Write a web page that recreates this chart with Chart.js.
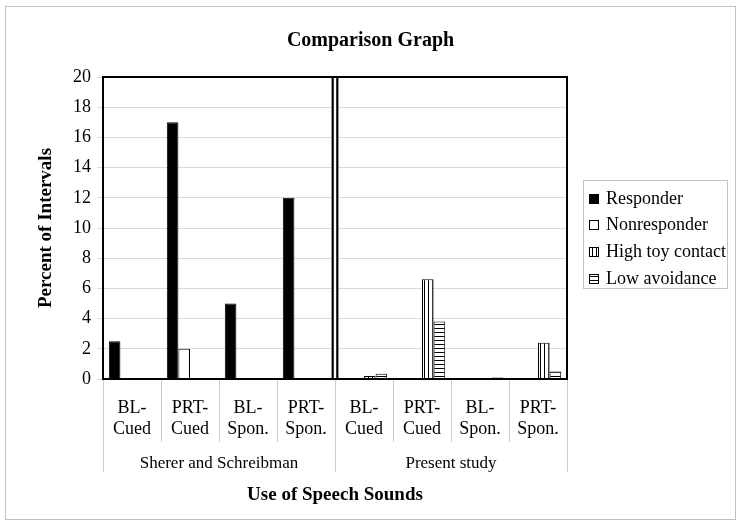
<!DOCTYPE html>
<html>
<head>
<meta charset="utf-8">
<title>Comparison Graph</title>
<script src="https://cdn.jsdelivr.net/npm/chart.js@4.4.1/dist/chart.umd.min.js"></script>
<style>
  html, body { margin: 0; padding: 0; background: #fff; }
  #chart { display: block; }
</style>
</head>
<body>
<canvas id="chart" width="741" height="526"></canvas>
<script>
// data
const categories = [
  ['BL-', 'Cued'], ['PRT-', 'Cued'], ['BL-', 'Spon.'], ['PRT-', 'Spon.'],
  ['BL-', 'Cued'], ['PRT-', 'Cued'], ['BL-', 'Spon.'], ['PRT-', 'Spon.']
];
const groupLabels = ['Sherer and Schreibman', 'Present study'];
const seriesNames = ['Responder', 'Nonresponder', 'High toy contact', 'Low avoidance'];
const responder = [2.5, 17, 5, 12, null, null, null, null];
const nonresponder = [null, 2, null, null, null, null, null, null];
const highToyContact = [null, null, null, null, 0.2, 6.6, null, 2.4];
const lowAvoidance = [null, null, null, null, 0.35, 3.8, 0.1, 0.5];

const SERIF = '"Liberation Serif", "Times New Roman", serif';

function makePattern(kind) {
    const c = document.createElement('canvas');
    c.width = 4;
    c.height = 4;
    const g = c.getContext('2d');
    g.fillStyle = '#fff';
    g.fillRect(0, 0, 4, 4);
    g.fillStyle = '#000';
    if (kind === 'v') g.fillRect(0, 0, 1, 4);
    else g.fillRect(0, 0, 4, 1);
    return g.createPattern(c, 'repeat');
}

const fills = ['#000000', '#ffffff', makePattern('v'), makePattern('h')];
const seriesData = [responder, nonresponder, highToyContact, lowAvoidance];

// frame, double divider, category separators, group labels, legend, outer border
const decorations = {
    id: 'decorations',
    afterDraw(chart) {
        const ctx = chart.ctx;
        const area = chart.chartArea;
        const x = chart.scales.x;
        const n = categories.length;
        const w = (x.right - x.left) / n;
        ctx.save();

        // separators below the axis
        ctx.strokeStyle = '#cccccc';
        ctx.lineWidth = 1;
        for (let i = 0; i <= n; i++) {
            const px = Math.round(x.left + i * w) + 0.5;
            const isGroupEdge = i === 0 || i === n || i === n / 2;
            ctx.beginPath();
            ctx.moveTo(px, area.bottom);
            ctx.lineTo(px, isGroupEdge ? 472 : 442);
            ctx.stroke();
        }

        // group labels
        ctx.fillStyle = '#000';
        ctx.font = '17px ' + SERIF;
        ctx.textAlign = 'center';
        ctx.textBaseline = 'middle';
        groupLabels.forEach((lab, gi) => {
            const cx = x.left + (gi * 4 + 2) * w;
            ctx.fillText(lab, cx, 464);
        });

        // plot frame
        ctx.strokeStyle = '#000';
        ctx.lineWidth = 2;
        ctx.strokeRect(area.left, area.top, area.right - area.left, area.bottom - area.top);

        // double line between the two studies
        const mid = x.left + (n / 2) * w;
        ctx.fillStyle = '#fff';
        ctx.fillRect(mid - 2, area.top + 1, 4, area.bottom - area.top - 2);
        ctx.lineWidth = 2.2;
        [mid - 2.3, mid + 2.3].forEach(px => {
            ctx.beginPath();
            ctx.moveTo(px, area.top);
            ctx.lineTo(px, area.bottom);
            ctx.stroke();
        });

        // legend
        ctx.strokeStyle = '#c4c4c4';
        ctx.lineWidth = 1;
        ctx.strokeRect(583.5, 180.5, 144, 108);
        ctx.font = '18px ' + SERIF;
        ctx.textAlign = 'left';
        ctx.textBaseline = 'middle';
        seriesNames.forEach((name, i) => {
            const cy = 198 + i * 26.7;
            const top = Math.round(cy - 4.5);
            ctx.fillStyle = fills[i];
            ctx.fillRect(589, top, 9, 9);
            ctx.strokeStyle = '#000';
            ctx.strokeRect(589.5, top + 0.5, 9, 9);
            ctx.fillStyle = '#000';
            ctx.fillText(name, 606, cy + 1);
        });

        // outer border
        ctx.strokeStyle = '#c0c0c0';
        ctx.lineWidth = 1;
        ctx.strokeRect(5.5, 6.5, 730, 513);
        ctx.restore();
    }
};

const ctx = document.getElementById('chart').getContext('2d');
new Chart(ctx, {
    type: 'bar',
    data: {
        labels: categories,
        datasets: seriesNames.map((name, i) => ({
            label: name,
            data: seriesData[i],
            backgroundColor: fills[i],
            borderColor: '#000',
            borderWidth: 1,
            categoryPercentage: 0.8,
            barPercentage: 1
        }))
    },
    options: {
        responsive: false,
        animation: false,
        devicePixelRatio: 1,
        layout: {
            padding: 0
        },
        plugins: {
            legend: { display: false },
            tooltip: { enabled: false },
            title: {
                display: true,
                text: 'Comparison Graph',
                color: '#000',
                font: { family: SERIF, size: 20, weight: 'bold' },
                padding: { top: 29, bottom: 24 }
            }
        },
        scales: {
            x: {
                afterFit(scale) { scale.height = 147; },
                grid: { display: false, drawTicks: false },
                border: { display: false },
                ticks: {
                    color: '#000',
                    font: { family: SERIF, size: 18 },
                    padding: 18,
                    maxRotation: 0,
                    autoSkip: false
                },
                title: {
                    display: true,
                    text: 'Use of Speech Sounds',
                    color: '#000',
                    font: { family: SERIF, size: 19, weight: 'bold' },
                    padding: { top: 0, bottom: 20 }
                }
            },
            y: {
                min: 0,
                max: 20,
                afterFit(scale) { scale.width = 103; },
                grid: { color: '#d9d9d9', tickLength: 6 },
                border: { display: false },
                ticks: {
                    stepSize: 2,
                    color: '#000',
                    font: { family: SERIF, size: 18 },
                    padding: 6
                },
                title: {
                    display: true,
                    text: 'Percent of Intervals',
                    color: '#000',
                    font: { family: SERIF, size: 19, weight: 'bold' },
                    padding: { top: 35, bottom: 0 }
                }
            },
            // empty right-hand space that holds the legend
            legendSpace: {
                position: 'right',
                afterFit(scale) { scale.width = 174; },
                grid: { display: false, drawTicks: false },
                border: { display: false },
                ticks: { display: false }
            }
        }
    },
    plugins: [decorations]
});
</script>
</body>
</html>
